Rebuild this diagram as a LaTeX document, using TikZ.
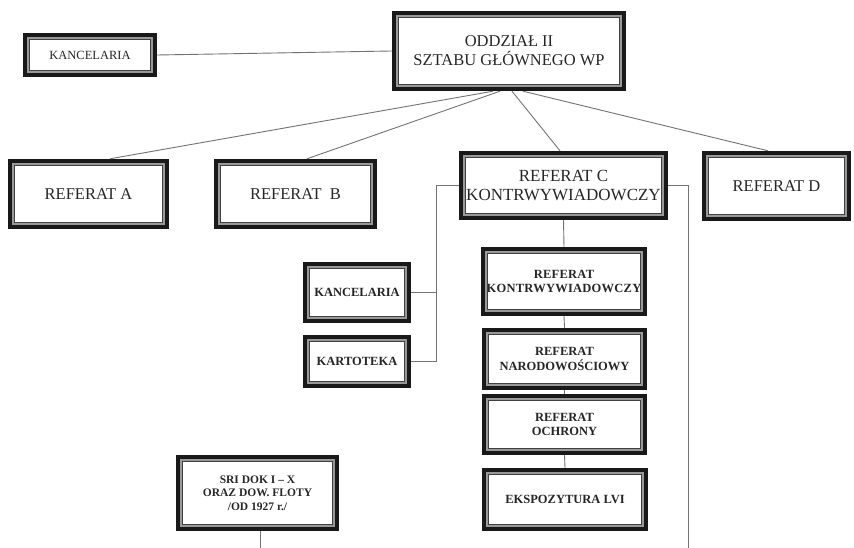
\documentclass[tikz,border=0pt]{standalone}
\usepackage{fontspec}
\setmainfont{Liberation Serif}
\begin{document}
\begin{tikzpicture}[x=1pt,y=-1pt,
  bx/.style={inner sep=0pt, align=center, text=black!85},
  big/.style={bx, font=\fontsize{16.5}{19}\selectfont},
  small/.style={bx, font=\bfseries\fontsize{12.5}{14.5}\selectfont},
  ln/.style={draw=black!55, line width=0.9pt}]
\fill[white] (0,0) rectangle (854,548);
\useasboundingbox (0,0) rectangle (854,548);
% top level
\node[bx, font=\fontsize{12.5}{15}\selectfont, minimum width=134pt, minimum height=44pt] (kt) at (90,55) {KANCELARIA};
\node[bx, font=\fontsize{16.5}{19}\selectfont, minimum width=234pt, minimum height=80pt] (odd) at (509,51) {ODDZIAŁ II\\SZTABU GŁÓWNEGO WP};
\node[big, minimum width=161pt, minimum height=70pt] (ra) at (88.5,194) {REFERAT A};
\node[big, minimum width=163pt, minimum height=70pt] (rb) at (295.5,194) {REFERAT\ \ B};
\node[big, font=\fontsize{17}{18.5}\selectfont, minimum width=209pt, minimum height=69pt] (rc) at (563.5,185.5) {REFERAT C\\KONTRWYWIADOWCZY};
\node[big, minimum width=149pt, minimum height=70pt] (rd) at (776.5,186) {REFERAT D};
% sub level
\node[small, minimum width=108pt, minimum height=61pt] (ks) at (357,292.5) {KANCELARIA};
\node[small, minimum width=108pt, minimum height=53pt] (kr) at (357,361.5) {KARTOTEKA};
\node[small, font=\bfseries\fontsize{12.5}{14.5}\addfontfeature{LetterSpace=2}\selectfont, minimum width=166pt, minimum height=69pt] (rk) at (564,281.5) {REFERAT\\KONTRWYWIADOWCZY};
\node[small, minimum width=165pt, minimum height=62pt] (rn) at (564.5,359) {REFERAT\\NARODOWOŚCIOWY};
\node[small, minimum width=165pt, minimum height=61pt] (ro) at (564.5,424.5) {REFERAT\\OCHRONY};
\node[small, font=\bfseries\fontsize{12.5}{14}\selectfont, minimum width=166pt, minimum height=63pt] (ek) at (565,499.5) {EKSPOZYTURA LVI};
\node[small, font=\bfseries\fontsize{11.5}{13.5}\selectfont, minimum width=163pt, minimum height=76pt] (sri) at (257.5,493) {SRI DOK I – X\\ORAZ DOW. FLOTY\\/OD 1927 r./};
% borders
\foreach \n in {kt,odd,ra,rb,rc,rd,ks,kr,rk,rn,ro,ek,sri}{
  \draw[black!90, line width=4pt] ([shift={(2pt,-2pt)}]\n.north west) rectangle ([shift={(-2pt,2pt)}]\n.south east);
  \draw[black!40, line width=1.6pt] ([shift={(5.2pt,-5.2pt)}]\n.north west) rectangle ([shift={(-5.2pt,5.2pt)}]\n.south east);
  \draw[black!75, line width=0.7pt] ([shift={(6.5pt,-6.5pt)}]\n.north west) rectangle ([shift={(-6.5pt,6.5pt)}]\n.south east);
}
% connectors
\draw[ln] (kt.east) -- (odd.west);
\draw[ln] ([xshift=-16pt]odd.south) -- ([xshift=21.5pt]ra.north);
\draw[ln] ([xshift=-9pt]odd.south) -- ([xshift=11.5pt]rb.north);
\draw[ln] ([xshift=3pt]odd.south) -- ([xshift=-3.5pt]rc.north);
\draw[ln] ([xshift=14pt]odd.south) -- ([xshift=-8.5pt]rd.north);
\coordinate (cl) at (436,185.5);
\coordinate (cr) at (688,185.5);
\coordinate (crb) at (688,548);
\coordinate (srib) at (260,548);
\draw[ln] (rc.west) -- (cl) |- (kr.east);
\draw[ln] (ks.east) -- (ks.east -| cl);
\draw[ln] (rc.east) -- (cr) -- (crb);
\draw[ln] (rc.south) -- (rk.north);
\draw[ln] (rk.south) -- (rn.north);
\draw[ln] (rn.south) -- (ro.north);
\draw[ln] (ro.south) -- (ek.north);
\draw[ln] ([xshift=2.5pt]sri.south) -- (srib);
\end{tikzpicture}
\end{document}
